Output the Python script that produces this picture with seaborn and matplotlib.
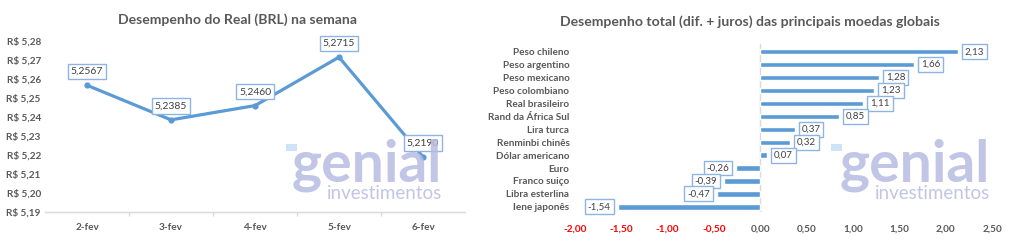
import matplotlib
matplotlib.use("Agg")
import matplotlib.pyplot as plt
import seaborn as sns
import pandas as pd
from matplotlib.ticker import FuncFormatter, FixedLocator
from matplotlib.patches import FancyBboxPatch

# ---- data ----
dias = ["2-fev", "3-fev", "4-fev", "5-fev", "6-fev"]
brl = [5.2567, 5.2385, 5.2460, 5.2715, 5.2190]

moedas = ["Peso chileno", "Peso argentino", "Peso mexicano", "Peso colombiano",
          "Real brasileiro", "Rand da África Sul", "Lira turca", "Renminbi chinês",
          "Dólar americano", "Euro", "Franco suiço", "Libra esterlina", "Iene japonês"]
desempenho = [2.13, 1.66, 1.28, 1.23, 1.11, 0.85, 0.37, 0.32, 0.07,
              -0.26, -0.39, -0.47, -1.54]

titulo_esq = "Desempenho do Real (BRL) na semana"
titulo_dir = "Desempenho total (dif. + juros) das principais moedas globais"

# ---- style ----
sns.set_theme(style="white")
plt.rcParams['font.family'] = ['Lato', 'DejaVu Sans']
GRAY = "#595959"
BLUE = "#5B9BD5"
BOXEDGE = "#8DB4E2"
WM = "#B7BBE2"

fig = plt.figure(figsize=(10.24, 2.46), dpi=100)

def fx(px):
    return px / 1024

def fy(py):
    return 1 - py / 246

# ---- left chart ----
axL = fig.add_axes([fx(45), fy(212), fx(465 - 45), fy(41) - fy(212)])
dfL = pd.DataFrame({"dia": dias, "valor": brl})
sns.lineplot(data=dfL, x="dia", y="valor", ax=axL, color=BLUE, lw=2.3,
             marker="o", markersize=4.5, markeredgewidth=0, sort=False)
axL.set_xlim(-0.5, len(dias) - 0.5)
axL.set_ylim(5.19, 5.28)
axL.yaxis.set_major_locator(FixedLocator([5.19 + 0.01 * i for i in range(10)]))
axL.yaxis.set_major_formatter(FuncFormatter(lambda v, p: "R$ " + f"{v:.2f}".replace(".", ",")))
axL.set_xlabel("")
axL.set_ylabel("")
for s in ["top", "right", "left"]:
    axL.spines[s].set_visible(False)
axL.spines["bottom"].set_color("#D9D9D9")
axL.spines["bottom"].set_linewidth(1)
axL.tick_params(axis="y", length=0, pad=3, labelsize=7.2, labelcolor=GRAY)
axL.tick_params(axis="x", length=0, pad=8, labelsize=7.2, labelcolor=GRAY)
axL.xaxis.set_minor_locator(FixedLocator([0.5, 1.5, 2.5, 3.5]))
axL.tick_params(axis="x", which="minor", length=3, color="#D9D9D9", direction="out", bottom=True)
for lab in axL.get_xticklabels() + axL.get_yticklabels():
    lab.set_fontweight("bold")
for i, v in enumerate(brl):
    axL.annotate(f"{v:.4f}".replace(".", ","), (i, v), xytext=(0, 10),
                 textcoords="offset points", ha="center", va="center",
                 fontsize=7.5, color="#404040", annotation_clip=False,
                 bbox=dict(boxstyle="square,pad=0.3", fc="white", ec=BOXEDGE, lw=1),
                 zorder=5)
fig.text(fx(238), fy(20), titulo_esq, ha="center", va="center",
         fontsize=10.1, fontweight="bold", color=GRAY)

# ---- right chart ----
axR = fig.add_axes([fx(575), fy(212), fx(992 - 575), fy(44) - fy(212)])
dfR = pd.DataFrame({"moeda": moedas, "valor": desempenho})
sns.barplot(data=dfR, y="moeda", x="valor", ax=axR, color=BLUE, width=0.42,
            orient="h", saturation=1)
axR.set_xlim(-2.0, 2.5)
axR.set_ylim(len(moedas) - 0.6, -0.6)
axR.xaxis.set_major_locator(FixedLocator([-2 + 0.5 * i for i in range(10)]))
axR.xaxis.set_major_formatter(FuncFormatter(lambda v, p: f"{v:.2f}".replace(".", ",")))
axR.set_xlabel("")
axR.set_ylabel("")
for s in ["top", "right", "left", "bottom"]:
    axR.spines[s].set_visible(False)
axR.axvline(0, color="#D9D9D9", lw=1, zorder=0)
axR.tick_params(axis="y", length=0, pad=4, labelsize=7.2, labelcolor=GRAY)
axR.tick_params(axis="x", length=0, pad=9, labelsize=7.2, labelcolor=GRAY)
for lab in axR.get_yticklabels():
    lab.set_fontweight("bold")
for lab, v in zip(axR.get_xticklabels(), [-2 + 0.5 * i for i in range(10)]):
    lab.set_fontweight("bold")
    if v < 0:
        lab.set_color("#FF0000")
for i, v in enumerate(desempenho):
    txt = f"{v:.2f}".replace(".", ",")
    if v >= 0:
        axR.annotate(txt, (v, i), xytext=(5, 0), textcoords="offset points",
                     ha="left", va="center", fontsize=7, color="#404040",
                     bbox=dict(boxstyle="square,pad=0.3", fc="white", ec=BOXEDGE, lw=1),
                     annotation_clip=False, zorder=5)
    else:
        axR.annotate(txt, (v, i), xytext=(-5, 0), textcoords="offset points",
                     ha="right", va="center", fontsize=7, color="#404040",
                     bbox=dict(boxstyle="square,pad=0.3", fc="white", ec=BOXEDGE, lw=1),
                     annotation_clip=False, zorder=5)
fig.text(fx(750), fy(22), titulo_dir, ha="center", va="center",
         fontsize=10.1, fontweight="bold", color=GRAY)

# ---- watermarks ----
def watermark(x0, x1):
    fig.text(fx(x1), fy(182), "genial", ha="right", va="baseline", fontsize=41,
             fontweight="bold", color=WM, alpha=0.85, zorder=10,
             family=["Lato", "DejaVu Sans"])
    fig.text(fx(x1), fy(199), "investimentos", ha="right", va="baseline", fontsize=13.5,
             color=WM, alpha=0.85, zorder=10, family=["Lato", "DejaVu Sans"])
    fig.patches.append(FancyBboxPatch((fx(x0), fy(151)), fx(11), fy(144) - fy(151),
                                      boxstyle="round,pad=0.0", transform=fig.transFigure,
                                      fc="#CFE3F7", ec="none", zorder=10))

watermark(286, 442)
watermark(831, 990)

fig.savefig("out.png", dpi=100)
